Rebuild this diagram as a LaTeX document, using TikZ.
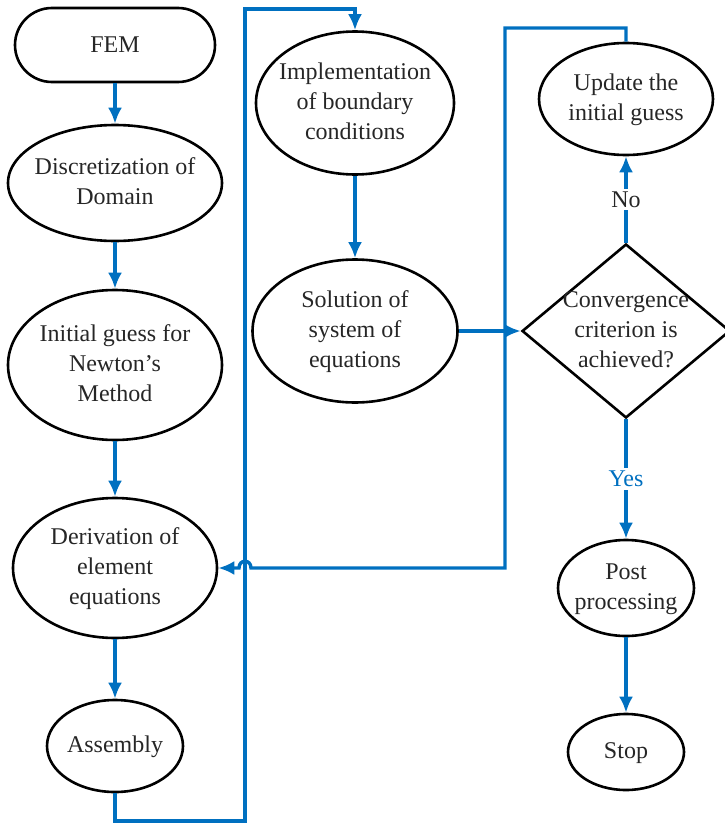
\documentclass[tikz,border=0pt]{standalone}
\usepackage{fontspec}
\setmainfont{Liberation Serif}
\usetikzlibrary{shapes.geometric,arrows.meta}
\definecolor{flowblue}{RGB}{0,112,192}
\newcommand{\ctext}[1]{\makebox[0pt]{\begin{tabular}{@{}c@{}}#1\end{tabular}}}

\tikzset{
  oval/.style={draw=black,line width=2.6pt,ellipse,inner sep=0pt},
  term/.style={draw=black,line width=2.6pt,rectangle,rounded corners=37pt,inner sep=0pt,
               minimum width=200pt,minimum height=74pt},
  decision/.style={draw=black,line width=2.6pt,diamond,inner sep=0pt,
                   minimum width=208pt,minimum height=174pt},
  flow/.style={draw=flowblue,line width=3.4pt,-{Latex[length=16pt,width=14pt]}}
}

\begin{document}
\begin{tikzpicture}[x=1pt,y=-1pt,font=\fontsize{24}{30}\selectfont,text=black!85]
\useasboundingbox (0,0) rectangle (724,827);

% left column
\node[term] (fem) at (115,45) {FEM};
\node[oval,minimum width=214pt,minimum height=116pt] (disc) at (115,183) {\ctext{Discretization of\\Domain}};
\node[oval,minimum width=214pt,minimum height=150pt] (init) at (115,365) {\ctext{Initial guess for\\Newton's\\Method}};
\node[oval,minimum width=204pt,minimum height=140pt] (deriv) at (115,568) {\ctext{Derivation of\\element\\equations}};
\node[oval,minimum width=136pt,minimum height=92pt] (asm) at (115,746) {\ctext{Assembly}};

% middle column
\node[oval,minimum width=198pt,minimum height=143pt] (impl) at (355,103) {\ctext{Implementation\\of boundary\\conditions}};
\node[oval,minimum width=205pt,minimum height=143pt] (sol) at (355,331) {\ctext{Solution of\\system of\\equations}};

% right column
\node[oval,minimum width=174pt,minimum height=112pt] (upd) at (626,99) {\ctext{Update the\\initial guess}};
\node[decision] (conv) at (626,331) {\ctext{Convergence\\criterion is\\achieved?}};
\node[oval,minimum width=136pt,minimum height=96pt] (post) at (626,588) {\ctext{Post\\processing}};
\node[oval,minimum width=116pt,minimum height=76pt] (stop) at (626,752) {\ctext{Stop}};

\draw[flow] (fem) -- (disc);
\draw[flow] (disc) -- (init);
\draw[flow] (init) -- (deriv);
\draw[flow] (deriv) -- (asm);
\draw[flow] (asm.south) -- (115,821) -- (245,821) -- (245,9) -- (355,9) -- (impl.north);
\draw[flow] (impl) -- (sol);
\draw[flow] (sol.east) -- (conv.west);
\draw[flow] (conv.north) -- node[fill=white,inner sep=3pt] (no) {No} (upd.south);
\draw[flow] (conv.south) -- node[fill=white,inner sep=3pt,text=flowblue] (yes) {Yes} (post.north);
\draw[flow] (post) -- (stop);

% feedback loop with hop
\draw[flow] (upd.north) -- (626,28) -- (505,28) -- (505,568) -- (251,568)
  .. controls (251,559) and (239,559) .. (239,568) -- (deriv.east);

\end{tikzpicture}
\end{document}
